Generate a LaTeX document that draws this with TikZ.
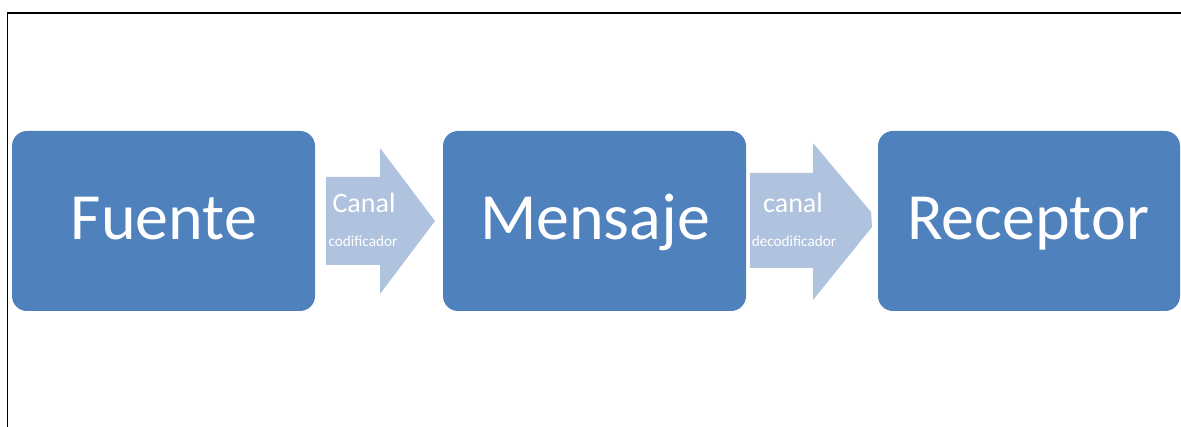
\documentclass[tikz,border=0pt]{standalone}
\usepackage{fontspec}
\setmainfont{Carlito}
\definecolor{boxblue}{RGB}{79,129,189}
\definecolor{arrowblue}{RGB}{176,195,222}
\begin{document}
\begin{tikzpicture}[x=1pt,y=-1pt,
  box/.style={fill=boxblue,draw=none,rounded corners=15pt},
  bigtxt/.style={text=white,anchor=base,inner sep=0pt,font=\fontsize{66}{66}\selectfont},
  medtxt/.style={text=white,anchor=base,inner sep=0pt,font=\fontsize{28}{28}\selectfont},
  smalltxt/.style={text=white,anchor=base,inner sep=0pt,font=\fontsize{15.2}{15.2}\selectfont},
  blockarrow/.style={fill=arrowblue,draw=none}]
\useasboundingbox (0,0) rectangle (1181,427);
\fill[white] (0,0) rectangle (1181,427);
% frame
\draw[line width=1.8pt] (7.5,427) -- (7.5,13) -- (1181,13);
% boxes
\fill[box] (12,131) rectangle (315,311);
\fill[box] (443,131) rectangle (746,311);
\fill[box] (878,131) rectangle (1180,311);
\node[bigtxt] (fuente) at (164,240) {Fuente};
\node[bigtxt] (mensaje) at (595,240) {Mensaje};
\node[bigtxt] (receptor) at (1028,240) {Receptor};
% arrows
\fill[blockarrow] (326,177) -- (380,177) -- (380,148) -- (435,221) -- (380,294) -- (380,265) -- (326,265) -- cycle;
\fill[blockarrow] (750,173) -- (813,173) -- (813,143) -- (871,212) -- (872,227) -- (813,300) -- (813,268) -- (750,268) -- cycle;
\node[medtxt] (canal1) at (364,213) {Canal};
\node[smalltxt] (cod) at (363,247) {codificador};
\node[medtxt] (canal2) at (793,213) {canal};
\node[smalltxt] (decod) at (794,247) {decodificador};
\end{tikzpicture}
\end{document}
